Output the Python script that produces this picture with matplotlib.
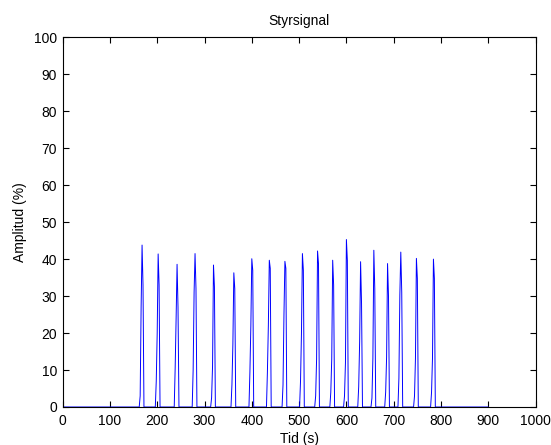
import numpy as np
import matplotlib
matplotlib.use("Agg")
import matplotlib.pyplot as plt

# ---- data ----
pulse_start = [164, 198, 238, 276, 315, 358, 396, 433, 466, 503, 535, 567, 596, 626, 654, 683, 711, 744, 780]
pulse_values = [
    [3, 27, 43.8, 33],
    [7, 20, 41.4, 33],
    [10.6, 24, 38.6, 27],
    [10, 31, 41.5, 32],
    [2.5, 11, 38.4, 32.5],
    [6, 17, 36.3, 32],
    [9.5, 22, 40.1, 37],
    [9.5, 22, 39.7, 37.5],
    [6, 25, 39.4, 37.5],
    [7, 20, 41.5, 37],
    [3, 13, 42.2, 38.8],
    [4, 13, 39.7, 33],
    [3, 12, 45.3, 39.7],
    [5.5, 17.7, 39.3, 28],
    [2.4, 13.2, 42.4, 32],
    [4, 13.6, 38.8, 30],
    [7.8, 30.3, 41.9, 31],
    [3, 13.2, 40.2, 34.8],
    [4, 13.2, 40, 34.8],
]
sample_dt = 2
t_end = 900

xticks = list(range(0, 1001, 100))
yticks = list(range(0, 101, 10))

# ---- build the signal ----
t = [0.0]
y = [0.0]
for t0, vals in zip(pulse_start, pulse_values):
    t.append(t0 - sample_dt)
    y.append(0.0)
    for k, v in enumerate(vals):
        t.append(t0 + k * sample_dt)
        y.append(v)
    t.append(t0 + len(vals) * sample_dt)
    y.append(0.0)
t.append(t_end)
y.append(0.0)

plt.rcParams['font.family'] = ['Liberation Sans', 'DejaVu Sans']
plt.rcParams['font.size'] = 10

fig = plt.figure(figsize=(5.51, 4.45), dpi=100)
ax = fig.add_axes([62.6 / 551, 38 / 445, 473 / 551, 369.7 / 445])
ax.plot(t, y, color='#0000ff', lw=0.7)

ax.set_xlim(0, 1000)
ax.set_ylim(0, 100)
ax.set_xticks(xticks)
ax.set_yticks(yticks)
ax.tick_params(direction='in', top=True, right=True, length=4, width=0.8)
ax.tick_params(axis='x', pad=5)
ax.tick_params(axis='y', pad=4)
for s in ax.spines.values():
    s.set_linewidth(0.8)

ax.set_title('Styrsignal', fontsize=10, pad=9)
ax.set_xlabel('Tid (s)', labelpad=3)
ax.set_ylabel('Amplitud (%)', labelpad=5)

fig.savefig('out.png', dpi=100)
